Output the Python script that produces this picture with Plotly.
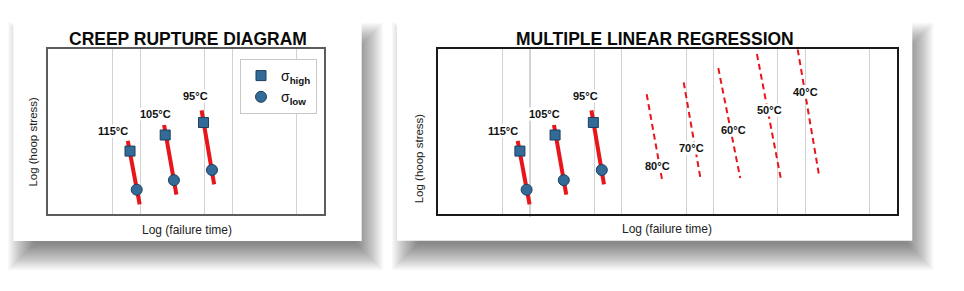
import plotly.graph_objects as go

W, H = 964, 291

# ---------------- data (log units) ----------------
temps_measured = ["115°C", "105°C", "95°C"]
x_high = [1.190, 1.573, 1.990]
y_high = [3.80, 4.78, 5.54]
x_low = [1.263, 1.668, 2.082]
y_low = [1.45, 2.03, 2.65]
fit_x_top = [1.166, 1.561, 1.969]
fit_y_top = [4.43, 5.39, 6.28]
fit_x_bot = [1.295, 1.695, 2.106]
fit_y_bot = [0.55, 1.15, 1.77]
label_x_meas = [1.005, 1.462, 1.903]
label_y_meas = [5.00, 6.06, 7.16]

temps_pred = ["80°C", "70°C", "60°C", "50°C", "40°C"]
pred_x_top = [2.571, 2.974, 3.351, 3.772, 4.216]
pred_y_top = [7.26, 7.99, 8.86, 9.71, 10.0]
pred_x_bot = [2.738, 3.155, 3.590, 4.031, 4.451]
pred_y_bot = [2.08, 2.20, 2.16, 2.16, 2.24]
label_x_pred = [2.686, 3.064, 3.522, 3.914, 4.306]
label_y_pred = [2.91, 3.99, 5.09, 6.29, 7.42]

grid_left = [1, 1.301, 2, 2.301, 3]
grid_right = [1, 1.301, 2, 2.301, 3, 3.301, 4, 4.301, 5]
x_range_left = [0.301, 3.301]
x_range_right = [0.301, 5.301]
y_range = [0, 10]

titles = ["CREEP RUPTURE DIAGRAM", "MULTIPLE LINEAR REGRESSION"]
x_title = "Log (failure time)"
y_title = "Log (hoop stress)"
legend_names = ["σ<sub><b>high</b></sub>", "σ<sub><b>low</b></sub>"]

# ---------------- styles ----------------
FONT = "Liberation Sans, Arial, sans-serif"
RED = "#e8151b"
BLUE = "#336a97"
BLUE_EDGE = "#1c3f60"


def px(x):
    return x / W


def py(y):
    return 1 - y / H


def segs(x0, y0, x1, y1):
    xs, ys = [], []
    for a, b, c, d in zip(x0, y0, x1, y1):
        xs += [a, c, None]
        ys += [b, d, None]
    return xs, ys


fig = go.Figure()

panels = [("x", "y", True), ("x2", "y2", False)]
for xa, ya, first in panels:
    fx, fy = segs(fit_x_top, fit_y_top, fit_x_bot, fit_y_bot)
    fig.add_trace(go.Scatter(x=fx, y=fy, xaxis=xa, yaxis=ya, mode="lines",
                             line=dict(color=RED, width=4), showlegend=False,
                             hoverinfo="skip"))
    fig.add_trace(go.Scatter(x=x_high, y=y_high, xaxis=xa, yaxis=ya, mode="markers",
                             name=legend_names[0], showlegend=first,
                             marker=dict(symbol="square", size=10, color=BLUE,
                                         line=dict(color=BLUE_EDGE, width=1))))
    fig.add_trace(go.Scatter(x=x_low, y=y_low, xaxis=xa, yaxis=ya, mode="markers",
                             name=legend_names[1], showlegend=first,
                             marker=dict(symbol="circle", size=11, color=BLUE,
                                         line=dict(color=BLUE_EDGE, width=1))))
    for t, lx, ly in zip(temps_measured, label_x_meas, label_y_meas):
        fig.add_annotation(x=lx, y=ly, xref=xa, yref=ya, text="<b>%s</b>" % t,
                           showarrow=False, bgcolor="white", borderpad=0,
                           font=dict(family=FONT, size=11, color="#111"))

# predicted (dashed) lines on the right panel
dx, dy = segs(pred_x_top, pred_y_top, pred_x_bot, pred_y_bot)
fig.add_trace(go.Scatter(x=dx, y=dy, xaxis="x2", yaxis="y2", mode="lines",
                         line=dict(color=RED, width=2, dash="6px,4px"),
                         showlegend=False, hoverinfo="skip"))
for t, lx, ly in zip(temps_pred, label_x_pred, label_y_pred):
    fig.add_annotation(x=lx, y=ly, xref="x2", yref="y2", text="<b>%s</b>" % t,
                       showarrow=False, bgcolor="white", borderpad=0,
                       font=dict(family=FONT, size=11, color="#111"))

# ---------------- cards with soft drop shadow ----------------
shapes = []


def card(x0, y0, x1, y1, sdx=8, sdy=16, blur=14, n=28, alpha=0.019):
    for i in range(n):
        e = blur * (1 - 2 * (i + 0.5) / n)
        shapes.append(dict(type="rect", xref="paper", yref="paper", layer="below",
                           x0=px(x0 + sdx - e), x1=px(x1 + sdx + e),
                           y0=py(y1 + sdy + e), y1=py(y0 + sdy - e),
                           line=dict(width=0), fillcolor="rgba(0,0,0,%.4f)" % alpha))
    shapes.append(dict(type="rect", xref="paper", yref="paper", layer="below",
                       x0=px(x0), x1=px(x1), y0=py(y1), y1=py(y0),
                       line=dict(width=0), fillcolor="white"))


card(13.3, 20, 361.7, 241)
card(397, 20, 912.3, 240.7)

# darker gridline with small tick on right panel
shapes.append(dict(type="line", xref="x2", yref="y2 domain", layer="below",
                   x0=grid_right[1], x1=grid_right[1], y0=-0.02, y1=1.0,
                   line=dict(color="#9a9a9a", width=1)))

# ---------------- titles / axis titles ----------------
title_pos = [(187.5, 39), (655, 39)]
for t, (tx, ty) in zip(titles, title_pos):
    fig.add_annotation(x=px(tx), y=py(ty), xref="paper", yref="paper",
                       text="<b>%s</b>" % t, showarrow=False,
                       xanchor="center", yanchor="middle",
                       font=dict(family=FONT, size=17.5, color="#0a0a0a"))

for tx, ty in [(186.5, 230), (667, 229.3)]:
    fig.add_annotation(x=px(tx), y=py(ty), xref="paper", yref="paper",
                       text=x_title, showarrow=False, xanchor="center", yanchor="middle",
                       font=dict(family=FONT, size=12, color="#222"))
for tx, ty in [(33.3, 141.3), (419.3, 158)]:
    fig.add_annotation(x=px(tx), y=py(ty), xref="paper", yref="paper",
                       text=y_title, showarrow=False, textangle=-90,
                       xanchor="center", yanchor="middle",
                       font=dict(family=FONT, size=11.5, color="#222"))

ydom = [py(213.5), py(49.3)]
axis_common = dict(showticklabels=False, ticks="", zeroline=False, showline=True,
                   mirror=True, fixedrange=True)

fig.update_layout(
    width=W, height=H,
    margin=dict(l=0, r=0, t=0, b=0),
    paper_bgcolor="white",
    plot_bgcolor="rgba(0,0,0,0)",
    shapes=shapes,
    xaxis=dict(domain=[px(48.3), px(324)], range=x_range_left, anchor="y",
               tickvals=grid_left, showgrid=True, gridcolor="#d2d2d2", gridwidth=1,
               linecolor="#5c5c5c", linewidth=1.5, **axis_common),
    yaxis=dict(domain=ydom, range=y_range, anchor="x", showgrid=False,
               linecolor="#5c5c5c", linewidth=1.5, **axis_common),
    xaxis2=dict(domain=[px(438.3), px(897.3)], range=x_range_right, anchor="y2",
                tickvals=grid_right, showgrid=True, gridcolor="#d2d2d2", gridwidth=1,
                linecolor="#1a1a1a", linewidth=1.5, **axis_common),
    yaxis2=dict(domain=ydom, range=y_range, anchor="x2", showgrid=False,
                linecolor="#1a1a1a", linewidth=1.5, **axis_common),
    legend=dict(x=px(240), y=py(59), xanchor="left", yanchor="top",
                bgcolor="white", bordercolor="#c8c8c8", borderwidth=1,
                font=dict(family=FONT, size=14, color="#111"),
                itemwidth=30, tracegroupgap=0),
    showlegend=True,
)

fig.write_html("out.html")
